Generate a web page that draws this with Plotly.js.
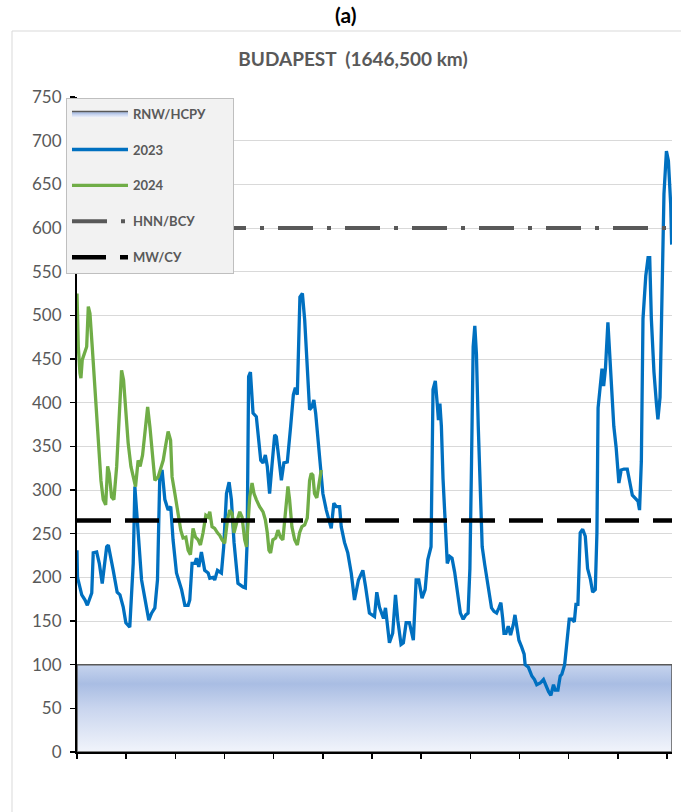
<!DOCTYPE html>
<html>
<head>
<meta charset="utf-8">
<script src="https://cdn.plot.ly/plotly-3.0.1.min.js"></script>
<style>html,body{margin:0;padding:0;background:#fff;}#chart{width:681px;height:812px;}</style>
</head>
<body>
<div id="chart"></div>
<script>
// ---- data (day of year index, discharge) ----
const days2023 = [0,0.3,2.9,4.9,6.3,9.0,9.9,12.0,13.6,15.4,18.1,19.1,22.1,24.5,26.2,28.2,29.8,32.2,34.3,35.3,39.4,42.4,43.8,45.5,47.5,49.1,50.5,51.9,53.6,55.6,57.2,58.6,60.7,63.8,65.8,67.8,68.8,70.2,71.9,72.9,74.3,75.9,77.9,80.0,81.0,83.0,84.0,85.7,88.1,89.5,91.2,92.8,94.2,95.8,98.2,101.3,102.7,103.8,104.7,105.8,107.4,109.4,112.1,113.5,114.9,116.1,117.5,118.9,120.6,121.6,123.2,124.7,126.2,128.3,130.3,132.0,133.2,134.4,136.0,137.5,138.9,140.5,141.9,143.3,144.5,145.6,148.0,150.0,152.1,153.7,155.1,156.7,158.2,160.2,161.2,163.2,165.2,167.3,169.3,171.7,174.4,176.0,178.4,181.5,182.9,184.5,187.0,188.2,190.6,192.6,194.3,195.7,197.7,199.1,200.8,202.8,205.2,206.9,208.5,210.5,212.4,214.0,216.0,217.2,218.6,219.8,220.5,221.4,222.3,223.3,224.7,225.9,227.4,228.8,230.4,232.5,233.9,235.6,237.2,238.6,239.7,240.7,241.7,242.7,243.7,244.8,246.2,247.2,248.8,250.2,251.5,252.9,254.4,256.0,257.4,258.6,259.7,260.5,261.7,263.1,264.5,266.2,267.2,268.7,269.6,271.3,272.8,273.4,275.4,277.5,279.1,280.5,282.6,284.6,286.1,287.7,289.1,290.7,291.8,293.4,294.8,295.8,297.5,298.9,300.3,302.0,303.4,304.4,305.6,307.0,308.5,310.1,311.5,313.2,314.6,316.2,317.2,317.9,319.3,320.3,321.3,322.4,323.9,325.1,326.5,327.5,328.9,330.6,332.0,333.7,335.7,337.1,338.8,340.8,342.3,343.2,344.3,345.3,347.0,348.4,349.4,350.4,352.0,353.5,354.4,355.7,356.8,358.1,359.6,360.8,362.2,362.8];
const flow2023 = [231,200,180,174,168,182,228,229,216,193,235,237,208,183,180,166,148,143,216,304,197,166,151,159,165,197,315,323,289,277,281,243,205,186,168,168,174,216,216,222,212,229,208,205,199,200,197,208,205,235,296,309,289,240,193,189,188,240,430,435,388,384,334,331,340,327,296,327,363,361,334,311,331,332,372,409,417,409,521,525,495,437,392,395,403,388,334,296,277,266,256,285,281,281,258,240,228,205,174,197,208,190,159,155,183,166,153,165,125,136,180,151,123,125,148,148,128,197,197,176,186,220,235,415,425,398,380,399,373,313,251,216,224,222,206,173,159,152,157,159,210,333,464,488,455,373,292,235,214,198,183,165,161,159,165,171,153,136,136,144,134,146,157,141,128,120,112,100,97,87,83,77,79,83,75,69,65,77,71,71,87,89,100,128,152,152,149,169,169,251,255,247,210,198,183,186,251,394,423,439,419,439,492,455,415,373,349,308,323,324,324,308,294,290,287,277,333,496,545,566,566,496,435,399,381,406,496,639,688,677,627,581];

const days2024 = [0,0.8,1.8,2.4,3.2,4.9,5.9,6.9,7.9,9.3,11.0,12.6,13.4,14.6,16.0,17.5,18.7,19.7,21.1,22.5,24.2,25.8,27.2,28.4,29.7,31.2,32.9,34.5,35.7,37.3,38.5,40.0,41.4,43.1,44.5,46.1,47.5,49.5,51.2,52.6,54.0,55.6,57.1,58.0,59.7,61.7,63.3,64.7,66.4,67.8,69.2,70.8,72.3,73.9,75.3,76.9,78.6,80.0,81.0,82.4,84.0,85.7,87.1,88.5,90.1,91.8,93.2,94.6,95.8,97.9,99.3,100.7,102.3,103.4,104.3,105.4,106.8,108.0,109.4,111.4,113.5,114.9,116.1,117.1,118.1,119.5,121.2,122.6,124.1,125.6,127.1,128.7,129.7,131.1,132.8,134.4,135.8,137.2,138.9,140.5,141.9,142.9,143.9,144.9,146.3,148.0,149.0];
const flow2024 = [525,464,434,428,449,458,464,510,502,464,414,372,338,311,289,283,327,319,292,289,327,395,437,426,388,354,327,311,304,334,327,340,365,395,372,342,311,315,325,334,350,367,357,315,296,273,254,245,246,231,226,256,246,243,237,251,271,269,275,258,256,251,248,243,239,266,277,273,251,266,275,269,243,235,266,292,308,296,289,281,275,266,251,231,228,243,245,254,246,243,273,304,289,258,243,237,251,258,260,268,311,319,317,296,291,308,323];

const rnwLevel = 100;   // RNW/НСРУ
const hnnLevel = 600;   // HNN/ВСУ
const mwLevel = 265;    // MW/СУ
const dayExtent = [0, 363];
const yTicks = [0,50,100,150,200,250,300,350,400,450,500,550,600,650,700,750];

const seriesNames = ['RNW/НСРУ', '2023', '2024', 'HNN/ВСУ', 'MW/СУ'];
const legendPad = '\u00a0\u00a0\u00a0\u00a0\u00a0\u00a0\u00a0';

// ---- traces ----
const rnwTrace = {
  x: [dayExtent[0], dayExtent[1], dayExtent[1], dayExtent[0], dayExtent[0]],
  y: [0, 0, rnwLevel, rnwLevel, 0],
  name: seriesNames[0] + legendPad, legendgroup: 'g0',
  mode: 'lines', fill: 'toself',
  line: {color: '#595959', width: 1.5},
  fillcolor: '#b4c6e7',
  fillgradient: {type: 'vertical', colorscale: [[0, '#f1f4fb'], [0.5, '#c9d5ee'], [0.78, '#a9bde3'], [1, '#c6d4ee']]},
  hoverinfo: 'skip'
};
const t2023 = {
  x: days2023, y: flow2023, name: seriesNames[1], legendgroup: 'g1',
  mode: 'lines', line: {color: '#0070c0', width: 3.3}
};
const t2024 = {
  x: days2024, y: flow2024, name: seriesNames[2], legendgroup: 'g2',
  mode: 'lines', line: {color: '#70ad47', width: 3.3}
};
const hnn = {
  x: dayExtent, y: [hnnLevel, hnnLevel], name: seriesNames[3], legendgroup: 'g3',
  mode: 'lines', line: {color: '#595959', width: 4, dash: '35px,14px,4px,14px'}
};
const mw = {
  x: dayExtent, y: [mwLevel, mwLevel], name: seriesNames[4], legendgroup: 'g4',
  mode: 'lines', line: {color: '#000000', width: 4.5, dash: '34px,14px'}
};

const FONT = 'Lato, "Open Sans", "DejaVu Sans", sans-serif';

const layout = {
  width: 681, height: 812,
  margin: {l: 77, r: 9, t: 97, b: 60},
  paper_bgcolor: '#ffffff', plot_bgcolor: '#ffffff',
  font: {family: FONT, color: '#595959'},
  title: {
    text: 'BUDAPEST\u00a0 (1646,500 km)',
    font: {family: FONT, size: 19, color: '#595959', weight: 'bold'},
    x: 353/681, xanchor: 'center', xref: 'container',
    y: 1 - 59/812, yanchor: 'middle', yref: 'container'
  },
  xaxis: {
    range: dayExtent, showgrid: false, zeroline: false,
    showline: true, linecolor: '#000000', linewidth: 2,
    ticks: 'outside', ticklen: 5, tickwidth: 1.5, tickcolor: '#000000',
    tick0: 0, dtick: 30, showticklabels: false, fixedrange: true
  },
  yaxis: {
    range: [0, 750], tickvals: yTicks, showgrid: true, gridcolor: '#d9d9d9', gridwidth: 1,
    zeroline: false, showline: true, linecolor: '#000000', linewidth: 2,
    ticks: 'outside', ticklen: 5, tickwidth: 1.5, tickcolor: '#000000',
    tickfont: {family: FONT, size: 17, color: '#595959'}, ticklabelstandoff: 5,
    fixedrange: true
  },
  legend: {
    x: -0.0185, y: 0.999, xanchor: 'left', yanchor: 'top',
    bgcolor: '#f2f2f2', bordercolor: '#bfbfbf', borderwidth: 1,
    font: {family: FONT, size: 13, color: '#595959', weight: 'bold'},
    itemwidth: 56, traceorder: 'grouped', tracegroupgap: 16
  },
  showlegend: true,
  shapes: [{
    type: 'rect', xref: 'paper', yref: 'paper', layer: 'below',
    x0: -65/595, x1: 1.2, y0: -0.5, y1: (752-31)/655,
    line: {color: '#d9d9d9', width: 1}, fillcolor: 'rgba(0,0,0,0)'
  }],
  annotations: [{
    text: '(a)', xref: 'paper', yref: 'paper',
    x: (345-77)/595, y: (752-14)/655, xanchor: 'center', yanchor: 'middle',
    showarrow: false, font: {family: FONT, size: 21, color: '#000000', weight: 'bold'}
  }]
};

Plotly.newPlot('chart', [rnwTrace, t2023, t2024, hnn, mw], layout, {displayModeBar: false, staticPlot: true});
</script>
</body>
</html>
